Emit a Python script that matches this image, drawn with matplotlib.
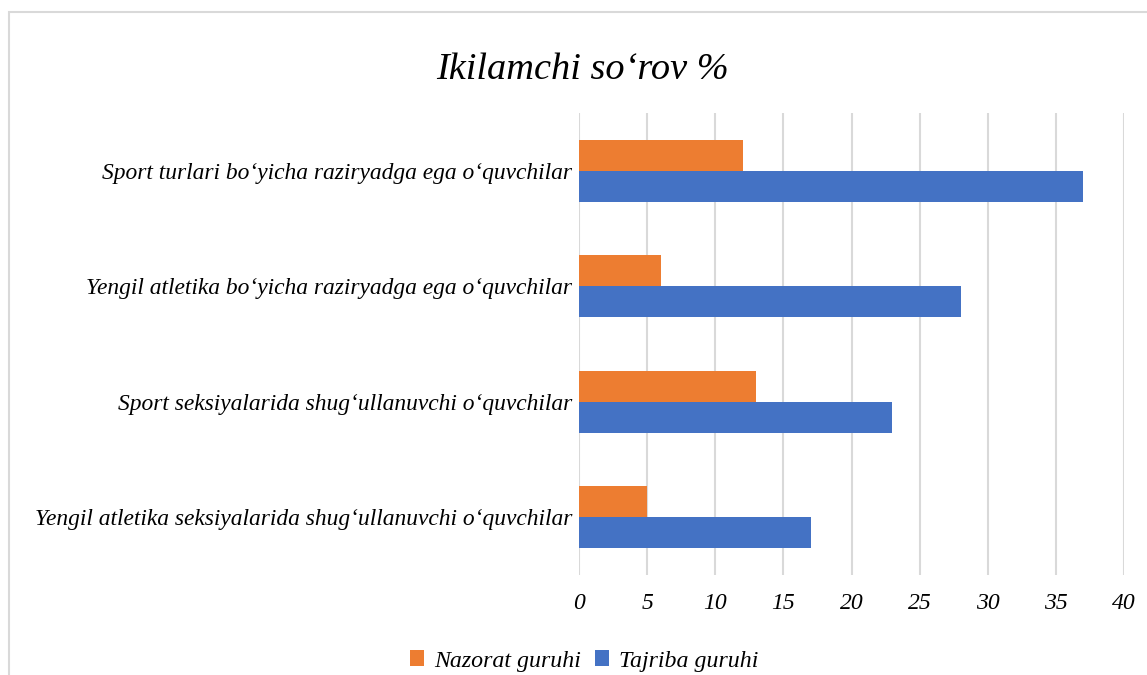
import numpy as np
import matplotlib.pyplot as plt
from matplotlib.patches import Rectangle

plt.rcParams['font.family'] = ['Liberation Serif', 'DejaVu Serif']
plt.rcParams['font.style'] = 'italic'

categories = [
    "Yengil atletika seksiyalarida shug\u2018ullanuvchi o\u2018quvchilar",
    "Sport seksiyalarida shug\u2018ullanuvchi o\u2018quvchilar",
    "Yengil atletika bo\u2018yicha raziryadga ega o\u2018quvchilar",
    "Sport turlari bo\u2018yicha raziryadga ega o\u2018quvchilar",
]
nazorat = [5, 13, 6, 12]
tajriba = [17, 23, 28, 37]
xticks = [0, 5, 10, 15, 20, 25, 30, 35, 40]

orange = '#ED7D31'
blue = '#4472C4'
grid_color = '#D9D9D9'

fig = plt.figure(figsize=(11.47, 6.75), dpi=100)
ax = fig.add_axes([579 / 1147, 100 / 675, 545 / 1147, 462 / 675])

y = np.arange(len(categories))
h = 0.267
ax.barh(y + h / 2, nazorat, height=h, color=orange, label='Nazorat guruhi', zorder=3)
ax.barh(y - h / 2, tajriba, height=h, color=blue, label='Tajriba guruhi', zorder=3)

ax.set_xlim(0, 40)
ax.set_ylim(-0.5, 3.5)
ax.set_xticks(xticks)
ax.set_xticklabels([str(t) for t in xticks], fontsize=17)
ax.set_yticks(y)
ax.set_yticklabels(categories, fontsize=16.9)
ax.tick_params(axis='both', length=0)
ax.tick_params(axis='x', pad=13)
ax.tick_params(axis='y', pad=5)
ax.grid(axis='x', color=grid_color, linewidth=1.5, zorder=0)
for s in ax.spines.values():
    s.set_visible(False)

fig.text(583 / 1147, 1 - 70 / 675, "Ikilamchi so\u2018rov %", fontsize=27.6,
         ha='center', va='center')

fig.legend(loc='center', bbox_to_anchor=(584 / 1147, 1 - 661 / 675), ncol=2,
           frameon=False, fontsize=17.2, handlelength=0.6, handleheight=0.6,
           handletextpad=0.4, columnspacing=0.6)

# outer chart frame (cropped on right and bottom)
fig.patches.append(Rectangle((9 / 1147, -0.05), 1.2, 1 - 12 / 675 + 0.05,
                             transform=fig.transFigure, fill=False,
                             edgecolor=grid_color, linewidth=1.5))

fig.savefig('out.png', dpi=100)
